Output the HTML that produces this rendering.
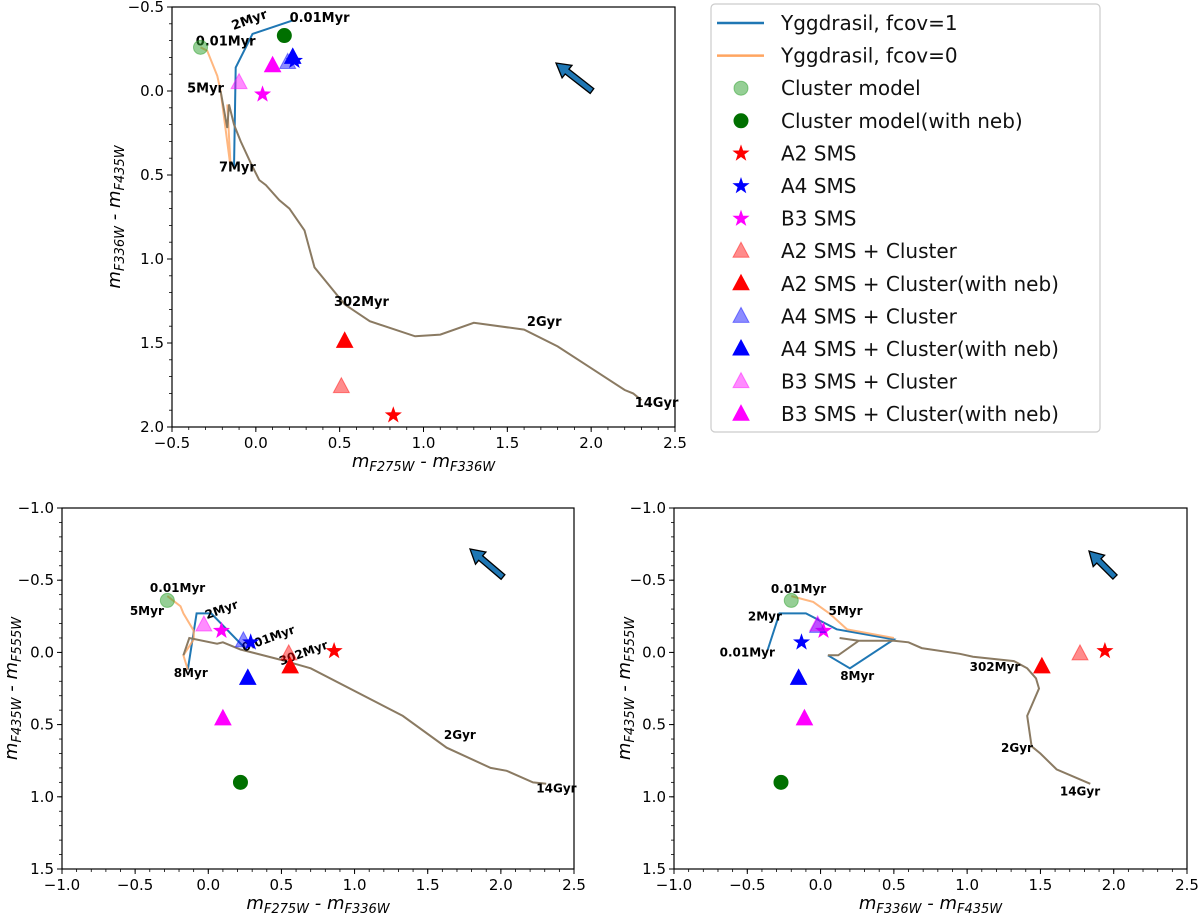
<!DOCTYPE html>
<html><head><meta charset="utf-8"><style>
body{margin:0;background:#fff;}
svg{display:block;font-family:"DejaVu Sans","Liberation Sans",sans-serif;}
</style></head><body>
<svg id="fig" width="1200" height="917" viewBox="0 0 1200 917"></svg>
<script>
// ---------- data: top panel (F275-F336 vs F336-F435)
const topBlueX=[0.22,-0.02,-0.12,-0.13];
const topBlueY=[-0.42,-0.34,-0.14,0.46];
const topOrangeX=[-0.33,-0.29,-0.23,-0.21,-0.15,-0.17];
const topOrangeY=[-0.26,-0.24,-0.09,0.0,0.46,0.08];
const topTrackX=[-0.21,-0.17,-0.16,-0.13,-0.09,-0.03,0.02,0.06,0.14,0.20,0.29,0.35,0.53,0.68,0.95,1.10,1.30,1.60,1.80,2.00,2.20,2.25,2.30];
const topTrackY=[0.0,0.22,0.08,0.20,0.30,0.43,0.53,0.56,0.65,0.70,0.83,1.05,1.27,1.37,1.46,1.45,1.38,1.42,1.52,1.65,1.78,1.80,1.84];
const topMarkX=[-0.33,0.17,0.82,0.23,0.04,0.51,0.53,0.19,0.22,-0.10,0.10];
const topMarkY=[-0.26,-0.33,1.93,-0.18,0.02,1.76,1.49,-0.17,-0.20,-0.05,-0.15];
const topLabels=["0.01Myr","0.01Myr","2Myr","5Myr","7Myr","302Myr","2Gyr","14Gyr"];
const topLabX=[-0.18,0.38,-0.03,-0.30,-0.11,0.63,1.72,2.39];
const topLabY=[-0.27,-0.41,-0.40,0.01,0.48,1.28,1.40,1.88];
const topLabRot=[0,0,-20,0,0,0,0,0];
// ---------- bottom-left (F275-F336 vs F435-F555)
const blBlueX=[0.26,0.02,-0.08,-0.14];
const blBlueY=[-0.02,-0.27,-0.27,0.12];
const blOrangeX=[-0.28,-0.19,-0.17,-0.10,-0.10,-0.17,-0.14];
const blOrangeY=[-0.39,-0.32,-0.27,-0.15,-0.09,0.02,0.12];
const blTrackX=[-0.17,-0.13,0.06,0.10,0.22,0.49,0.70,1.33,1.63,1.93,2.04,2.22,2.31];
const blTrackY=[0.02,-0.10,-0.06,-0.07,-0.02,0.05,0.11,0.44,0.66,0.80,0.82,0.90,0.91];
const blMarkX=[-0.28,0.22,0.86,0.29,0.09,0.55,0.56,0.24,0.27,-0.03,0.10];
const blMarkY=[-0.36,0.90,-0.01,-0.07,-0.15,0.01,0.10,-0.08,0.18,-0.19,0.46];
const blLabels=["0.01Myr","5Myr","2Myr","0.01Myr","8Myr","302Myr","2Gyr","14Gyr"];
const blLabX=[-0.21,-0.42,0.10,0.42,-0.12,0.66,1.72,2.38];
const blLabY=[-0.42,-0.26,-0.27,-0.07,0.17,0.03,0.60,0.97];
const blLabRot=[0,0,-20,-20,0,-20,0,0];
// ---------- bottom-right (F336-F435 vs F435-F555)
const brBlueX=[-0.36,-0.28,-0.10,0.11,0.50,0.20,0.05];
const brBlueY=[-0.02,-0.27,-0.27,-0.16,-0.09,0.11,0.02];
const brOrangeX=[-0.20,-0.05,0.06,0.18,0.50];
const brOrangeY=[-0.39,-0.35,-0.27,-0.16,-0.10];
const brTrackX=[0.05,0.12,0.26,0.13,0.26,0.50,0.60,0.69,0.95,1.04,1.32,1.41,1.47,1.49,1.41,1.44,1.50,1.61,1.84];
const brTrackY=[0.02,0.02,-0.08,-0.10,-0.08,-0.08,-0.07,-0.03,0.01,0.03,0.06,0.11,0.18,0.25,0.44,0.65,0.70,0.81,0.91];
const brMarkX=[-0.20,-0.27,1.94,-0.13,0.02,1.77,1.51,-0.02,-0.15,-0.02,-0.11];
const brMarkY=[-0.36,0.90,-0.01,-0.07,-0.15,0.01,0.10,-0.18,0.18,-0.19,0.46];
const brLabels=["0.01Myr","5Myr","2Myr","0.01Myr","8Myr","302Myr","2Gyr","14Gyr"];
const brLabX=[-0.15,0.17,-0.38,-0.50,0.25,1.19,1.34,1.77];
const brLabY=[-0.41,-0.26,-0.22,0.03,0.19,0.13,0.69,0.99];
const brLabRot=[0,0,0,0,0,0,0,0];
// marker styles
const markKind=["circle","circle","star","star","star","tri","tri","tri","tri","tri","tri"];
const markColor=["#2ca02c","#007000","#ff0000","#0000ff","#ff00ff","#ff0000","#ff0000","#0000ff","#0000ff","#ff00ff","#ff00ff"];
const markAlpha=[0.5,1,1,1,1,0.45,1,0.45,1,0.45,1];
const markNames=["cluster-model","cluster-model-neb","a2-sms","a4-sms","b3-sms","a2-sms-cluster","a2-sms-cluster-neb","a4-sms-cluster","a4-sms-cluster-neb","b3-sms-cluster","b3-sms-cluster-neb"];
const legendLabels=["Yggdrasil, fcov=1","Yggdrasil, fcov=0","Cluster model","Cluster model(with neb)","A2 SMS","A4 SMS","B3 SMS","A2 SMS + Cluster","A2 SMS + Cluster(with neb)","A4 SMS + Cluster","A4 SMS + Cluster(with neb)","B3 SMS + Cluster","B3 SMS + Cluster(with neb)"];

const NS="http://www.w3.org/2000/svg";
const svg=document.getElementById('fig');
function el(tag,attrs,parent){const e=document.createElementNS(NS,tag);for(const k in attrs)e.setAttribute(k,attrs[k]);(parent||svg).appendChild(e);return e;}
function starPts(cx,cy,R){let p=[];for(let i=0;i<10;i++){const r=i%2?R*0.4:R;const a=-Math.PI/2+i*Math.PI/5;p.push((cx+r*Math.cos(a)).toFixed(1)+","+(cy+r*Math.sin(a)).toFixed(1));}return p.join(" ");}
function marker(g,kind,cx,cy,col,al,name){
  let m;
  if(kind==="circle")m=el('circle',{cx:cx,cy:cy,r:7,fill:col,'fill-opacity':al,stroke:col,'stroke-opacity':al},g);
  else if(kind==="star")m=el('polygon',{points:starPts(cx,cy,9),fill:col,'fill-opacity':al},g);
  else m=el('polygon',{points:`${cx},${cy-9} ${cx+8},${cy+6} ${cx-8},${cy+6}`,fill:col,'fill-opacity':al,stroke:col,'stroke-opacity':al},g);
  
  
}
function panel(o){
  const g=el('g',{});
  
  
  const sx=v=>o.x0+(v-o.xmin)/(o.xmax-o.xmin)*(o.x1-o.x0);
  const sy=v=>o.y0+(v-o.ymin)/(o.ymax-o.ymin)*(o.y1-o.y0);
  const path=(X,Y)=>X.map((v,i)=>(i?"L":"M")+sx(v).toFixed(1)+","+sy(Y[i]).toFixed(1)).join(" ");
  o.xt.forEach(v=>{const x=sx(v);el('line',{x1:x,x2:x,y1:o.y1,y2:o.y1+5,stroke:'#000'},g);
    const t=el('text',{x:x,y:o.y1+21,'text-anchor':'middle','font-size':15},g);t.textContent=v.toFixed(1).replace('-','\u2212');
    });
  o.yt.forEach(v=>{const y=sy(v);el('line',{x1:o.x0-5,x2:o.x0,y1:y,y2:y,stroke:'#000'},g);
    const t=el('text',{x:o.x0-8,y:y+5,'text-anchor':'end','font-size':15},g);t.textContent=v.toFixed(1).replace('-','\u2212');
    });
  for(let v=o.xmin;v<=o.xmax+1e-9;v+=0.1){const x=sx(v);el('line',{x1:x,x2:x,y1:o.y1,y2:o.y1+3,stroke:'#000','stroke-width':0.8},g);}
  for(let v=o.ymin;v<=o.ymax+1e-9;v+=0.1){const y=sy(v);el('line',{x1:o.x0-3,x2:o.x0,y1:y,y2:y,stroke:'#000','stroke-width':0.8},g);}
  let p=el('path',{d:path(o.bx,o.by),fill:'none',stroke:'#1f77b4','stroke-width':2},g);
  
  p=el('path',{d:path(o.ox,o.oy),fill:'none',stroke:'#ffa560','stroke-opacity':0.8,'stroke-width':2},g);
  
  p=el('path',{d:path(o.tx,o.ty),fill:'none',stroke:'#8a7a62','stroke-width':2},g);
  
  o.lab.forEach((s,i)=>{const x=sx(o.lx[i]),y=sy(o.ly[i]);
    const t=el('text',{x:x,y:y,'text-anchor':'middle','font-size':o.lfs,'font-weight':'bold',transform:`rotate(${o.lr[i]} ${x} ${y})`},g);t.textContent=s;
    });
  o.mx.forEach((v,i)=>marker(g,markKind[i],sx(v),sy(o.my[i]),markColor[i],markAlpha[i],markNames[i]));
  const a=el('polygon',{points:o.arrow,fill:'#1f77b4',stroke:'#000','stroke-width':1.3},g);
  
  el('rect',{x:o.x0,y:o.y0,width:o.x1-o.x0,height:o.y1-o.y0,fill:'none',stroke:'#000','stroke-width':1.2},g);
  const xl=el('text',{x:(o.x0+o.x1)/2,y:o.y1+40,'text-anchor':'middle','font-size':18,'font-style':'italic'},g);
  xl.innerHTML=`m<tspan font-size="13" dy="4">${o.xa}</tspan><tspan dy="-4"> - m</tspan><tspan font-size="13" dy="4">${o.xb}</tspan>`;
  
  const cy=(o.y0+o.y1)/2;
  const yl=el('text',{x:o.ylx,y:cy,'text-anchor':'middle','font-size':18,'font-style':'italic',transform:`rotate(-90 ${o.ylx} ${cy})`},g);
  yl.innerHTML=`m<tspan font-size="13" dy="4">${o.ya}</tspan><tspan dy="-4"> - m</tspan><tspan font-size="13" dy="4">${o.yb}</tspan>`;
  
}
function arrowPts(x1,y1,x2,y2){const dx=x2-x1,dy=y2-y1,L=Math.hypot(dx,dy),ux=dx/L,uy=dy/L,nx=-uy,ny=ux,h=14,w=3,hw=8;
  const bx=x2-ux*h,by=y2-uy*h;
  return [[x1+nx*w,y1+ny*w],[bx+nx*w,by+ny*w],[bx+nx*hw,by+ny*hw],[x2,y2],[bx-nx*hw,by-ny*hw],[bx-nx*w,by-ny*w],[x1-nx*w,y1-ny*w]].map(p=>p[0].toFixed(1)+","+p[1].toFixed(1)).join(" ");}

panel({name:'top-panel',x0:172,x1:675,y0:7,y1:427,xmin:-0.5,xmax:2.5,ymin:-0.5,ymax:2.0,
  xt:[-0.5,0,0.5,1,1.5,2,2.5],yt:[-0.5,0,0.5,1,1.5,2],
  bx:topBlueX,by:topBlueY,ox:topOrangeX,oy:topOrangeY,tx:topTrackX,ty:topTrackY,
  mx:topMarkX,my:topMarkY,lab:topLabels,lx:topLabX,ly:topLabY,lr:topLabRot,lfs:13,
  arrow:arrowPts(592,91,556,63),xa:'F275W',xb:'F336W',ya:'F336W',yb:'F435W',ylx:120});
panel({name:'bottom-left-panel',x0:62,x1:574,y0:508,y1:869,xmin:-1,xmax:2.5,ymin:-1,ymax:1.5,
  xt:[-1,-0.5,0,0.5,1,1.5,2,2.5],yt:[-1,-0.5,0,0.5,1,1.5],
  bx:blBlueX,by:blBlueY,ox:blOrangeX,oy:blOrangeY,tx:blTrackX,ty:blTrackY,
  mx:blMarkX,my:blMarkY,lab:blLabels,lx:blLabX,ly:blLabY,lr:blLabRot,lfs:12,
  arrow:arrowPts(503,577,470,549),xa:'F275W',xb:'F336W',ya:'F435W',yb:'F555W',ylx:17});
panel({name:'bottom-right-panel',x0:674,x1:1187,y0:508,y1:869,xmin:-1,xmax:2.5,ymin:-1,ymax:1.5,
  xt:[-1,-0.5,0,0.5,1,1.5,2,2.5],yt:[-1,-0.5,0,0.5,1,1.5],
  bx:brBlueX,by:brBlueY,ox:brOrangeX,oy:brOrangeY,tx:brTrackX,ty:brTrackY,
  mx:brMarkX,my:brMarkY,lab:brLabels,lx:brLabX,ly:brLabY,lr:brLabRot,lfs:12,
  arrow:arrowPts(1115,577,1089,551),xa:'F336W',xb:'F435W',ya:'F435W',yb:'F555W',ylx:630});

const lg=el('g',{});


el('rect',{x:711,y:4,width:389,height:428,rx:4,fill:'#fff',stroke:'#ccc','stroke-width':1.2},lg);
legendLabels.forEach((s,i)=>{
  const y=23+32.6*i;
  if(i<2){const ln=el('line',{x1:717,x2:764,y1:y,y2:y,stroke:i?'#ffa560':'#1f77b4','stroke-width':2.5},lg);
    }
  else marker(lg,markKind[i-2],741,y,markColor[i-2],markAlpha[i-2],'legend-marker-'+markNames[i-2]);
  const t=el('text',{x:781,y:y+7,'font-size':20,fill:'#111'},lg);t.textContent=s;
  
});
</script>
</body></html>
